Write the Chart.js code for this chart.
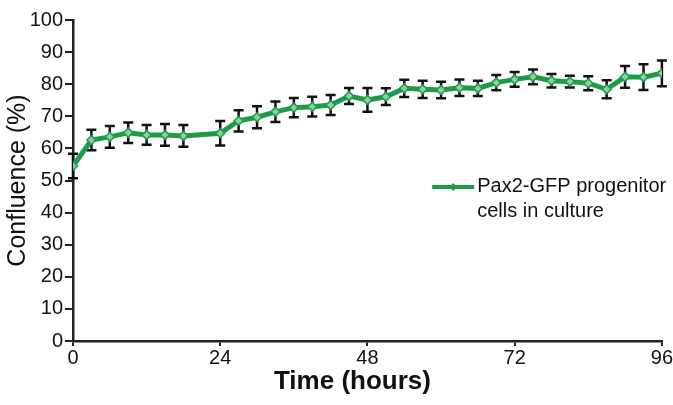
<!DOCTYPE html>
<html>
<head>
<meta charset="utf-8">
<script src="https://cdn.jsdelivr.net/npm/chart.js@4/dist/chart.umd.min.js"></script>
<style>
  html, body { margin: 0; padding: 0; background: #fff; }
  #wrap { width: 673px; height: 405px; }
</style>
</head>
<body>
<div id="wrap"><canvas id="confluenceChart" width="673" height="405"></canvas></div>
<script>
// time points (hours), mean confluence (%) and error (+/-)
const hours = [0, 3, 6, 9, 12, 15, 18, 24, 27, 30, 33, 36, 39, 42, 45, 48,
  51, 54, 57, 60, 63, 66, 69, 72, 75, 78, 81, 84, 87, 90, 93, 96];
const confluence = [54.5, 62.6, 63.6, 64.9, 64.2, 64.2, 63.9, 64.7, 68.6, 69.7, 71.4, 72.7, 73.0, 73.5, 76.3, 75.1,
  76.1, 78.7, 78.4, 78.2, 78.9, 78.7, 80.5, 81.5, 82.3, 81.1, 80.8, 80.3, 78.4, 82.3, 82.2, 83.4];
const errors = [3.8, 3.2, 3.4, 3.2, 3.1, 3.4, 3.4, 3.8, 3.3, 3.4, 3.2, 3.0, 3.1, 3.1, 2.5, 3.7,
  2.6, 2.7, 2.7, 2.6, 2.6, 2.4, 2.4, 2.3, 2.3, 2.1, 1.8, 2.2, 2.8, 3.4, 4.0, 4.0];
const xTicks = [0, 24, 48, 72, 96];
const seriesLabel = ['Pax2-GFP progenitor', 'cells in culture'];
const xTitle = 'Time (hours)';

const green = '#1f9a4b';
const fontFamily = '"Liberation Sans", Arial, Helvetica, sans-serif';

// error bars, drawn under the line
const errorBars = {
  id: 'errorBars',
  beforeDatasetsDraw(chart) {
    const { ctx, scales: { x, y } } = chart;
    ctx.save();
    ctx.strokeStyle = '#111';
    ctx.lineWidth = 2.5;
    hours.forEach((h, i) => {
      const px = x.getPixelForValue(h);
      const top = y.getPixelForValue(confluence[i] + errors[i]);
      const bot = y.getPixelForValue(confluence[i] - errors[i]);
      ctx.beginPath();
      ctx.moveTo(px, top); ctx.lineTo(px, bot);
      ctx.moveTo(px - 5, top); ctx.lineTo(px + 5, top);
      ctx.moveTo(px - 5, bot); ctx.lineTo(px + 5, bot);
      ctx.stroke();
    });
    ctx.restore();
  }
};

// legend inside the plot (two text lines) and the x title, set a bit left of centre
const extras = {
  id: 'extras',
  afterDraw(chart) {
    const { ctx, chartArea: a } = chart;
    const lx = a.left + a.width * 0.61;
    const ly = a.top + a.height * 0.52;
    ctx.save();
    ctx.strokeStyle = green;
    ctx.lineWidth = 4;
    ctx.beginPath();
    ctx.moveTo(lx, ly); ctx.lineTo(lx + 42, ly);
    ctx.stroke();
    ctx.fillStyle = green;
    ctx.beginPath();
    ctx.moveTo(lx + 21, ly - 4); ctx.lineTo(lx + 25, ly);
    ctx.lineTo(lx + 21, ly + 4); ctx.lineTo(lx + 17, ly);
    ctx.closePath(); ctx.fill();
    ctx.fillStyle = '#111';
    ctx.font = '20px ' + fontFamily;
    ctx.textBaseline = 'middle';
    seriesLabel.forEach((t, i) => ctx.fillText(t, lx + 45, ly + i * 25));

    ctx.font = 'bold 26px ' + fontFamily;
    ctx.textAlign = 'center';
    ctx.fillText(xTitle, (a.left + a.right) / 2 - 15, a.bottom + 41);
    ctx.restore();
  }
};

new Chart(document.getElementById('confluenceChart'), {
  type: 'line',
  data: {
    datasets: [{
      label: seriesLabel.join(' '),
      data: hours.map((h, i) => ({ x: h, y: confluence[i] })),
      borderColor: green,
      borderWidth: 5,
      pointStyle: 'rectRot',
      pointRadius: 4.5,
      pointBackgroundColor: 'rgba(150, 215, 165, 0.9)',
      pointBorderColor: green,
      pointBorderWidth: 1.5,
      tension: 0
    }]
  },
  options: {
    responsive: false,
    animation: false,
    layout: { padding: { top: 20, right: 11, left: 0, bottom: 0 } },
    plugins: {
      legend: { display: false },
      tooltip: { enabled: false }
    },
    scales: {
      x: {
        type: 'linear',
        min: 0,
        max: 96,
        afterBuildTicks: s => { s.ticks = xTicks.map(v => ({ value: v })); },
        ticks: { color: '#111', font: { family: fontFamily, size: 20 }, padding: 0, maxRotation: 0 },
        grid: { drawOnChartArea: false, tickLength: 5, color: '#222', lineWidth: 2 },
        border: { color: '#222', width: 2.5 },
        afterFit: s => { s.height = 64; }
      },
      y: {
        min: 0,
        max: 100,
        ticks: { stepSize: 10, color: '#111', font: { family: fontFamily, size: 20 }, padding: 2 },
        grid: { drawOnChartArea: false, tickLength: 8, color: '#222', lineWidth: 2 },
        border: { color: '#222', width: 2.5 },
        title: {
          display: true,
          text: 'Confluence (%)',
          color: '#111',
          font: { family: fontFamily, size: 25 },
          padding: { top: 3, bottom: 0 }
        },
        afterFit: s => { s.width = 73; }
      }
    }
  },
  plugins: [errorBars, extras]
});
</script>
</body>
</html>
